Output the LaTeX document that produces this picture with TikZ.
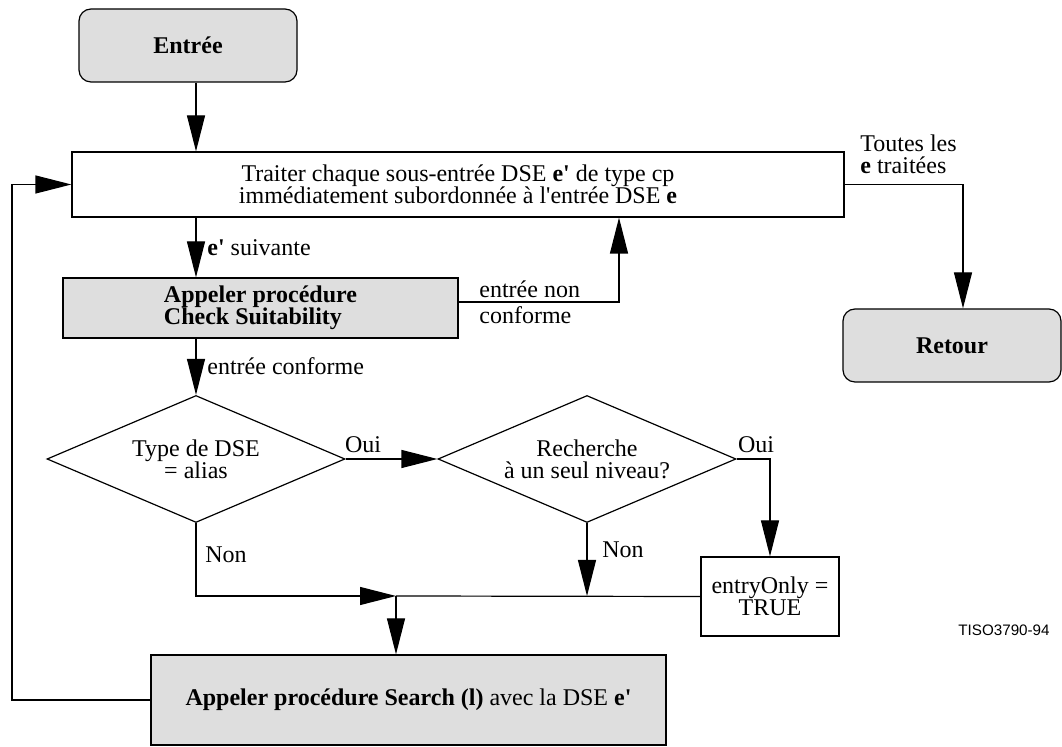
\documentclass[tikz,border=0pt]{standalone}
\usepackage{fontspec}
\setmainfont{Liberation Serif}
\newfontfamily\tisofont{Liberation Sans}
\usetikzlibrary{arrows.meta,shapes.geometric}
\definecolor{boxgray}{RGB}{222,222,222}
\newcommand{\dsize}{\fontsize{12}{11}\selectfont}
\newcommand{\ap}{\textquotesingle}
\tikzset{
  base/.style={draw, line width=0.6pt, inner sep=0pt, font=\dsize},
  termbox/.style={base, fill=boxgray, rounded corners=6pt, font=\dsize\bfseries,
    minimum width=109pt, minimum height=36.5pt},
  procbox/.style={base, rectangle},
  graybox/.style={procbox, fill=boxgray},
  decision/.style={base, diamond, aspect=2.35, align=center,
    minimum width=149pt, minimum height=63.5pt},
  lbl/.style={font=\dsize, inner sep=0pt},
  arr/.style={line width=0.6pt, -{Triangle[length=18pt,width=9pt]}},
  ln/.style={line width=0.6pt}
}
\begin{document}
\begin{tikzpicture}[x=0.5pt,y=-0.5pt]
\useasboundingbox (0,0) rectangle (1062,747);

% nodes
\node[termbox] (entree) at (188,45.5) {Entrée};
\node[procbox, align=center, minimum width=386pt, minimum height=32.5pt] (traiter) at (458,184.5)
  {Traiter chaque sous-entrée DSE \textbf{e\ap} de type cp\\immédiatement subordonnée à l\ap entrée DSE \textbf{e}};
\node[graybox, align=left, font=\dsize\bfseries, minimum width=197.5pt, minimum height=30pt] (check) at (260.5,308)
  {Appeler procédure\\Check Suitability};
\node[decision] (d1) at (196,459) {Type de DSE\\= alias};
\node[decision] (d2) at (587,459) {Recherche\\à un seul niveau?};
\node[procbox, align=center, minimum width=69pt, minimum height=39.5pt] (eo) at (770,596.5)
  {entryOnly =\\TRUE};
\node[termbox] (retour) at (952,345.5) {Retour};
\node[graybox, minimum width=257.5pt, minimum height=45pt] (search) at (408.5,700)
  {\textbf{Appeler procédure Search (l)} avec la DSE \textbf{e\ap}};

% helper coordinates
\coordinate (ax) at (196,0);
\coordinate (cx) at (619,0);
\coordinate (rx) at (963,0);
\coordinate (lx) at (12,0);
\coordinate (j) at (396,596);

% connectors
\draw[arr] (entree.south -| ax) -- (traiter.north -| ax);
\draw[arr] (traiter.south -| ax) -- (check.north -| ax);
\draw[arr] (check.south -| ax) -- (d1.north);
\draw[arr] ([yshift=3pt]check.east) -| (traiter.south -| cx);
\draw[arr] (traiter.east) -| (retour.north -| rx);
\draw[arr] (d1.east) -- (d2.west);
\draw[arr] (d2.east) -| (eo.north);
\draw[arr] (d2.south) -- (d2.south |- j);
\draw[arr] (d1.south) |- (j);
\draw[ln] (eo.west) -- (j);
\draw[arr] (j) -- (search.north -| j);
\draw[arr] (search.west) -| (traiter.west -| lx) -- (traiter.west);

% labels
\node[lbl, anchor=west] (l1) at (207,248) {\textbf{e\ap} suivante};
\node[lbl, anchor=west] (l2) at (207,366) {entrée conforme};
\node[lbl, anchor=west] (l3a) at (479,289) {entrée non};
\node[lbl, anchor=west] (l3b) at (479,315) {conforme};
\node[lbl, anchor=west, align=left] (l4) at (860,154) {Toutes les\\\textbf{e} traitées};
\node[lbl] (oui1) at (363,445) {Oui};
\node[lbl] (oui2) at (756,445) {Oui};
\node[lbl] (non1) at (226,555) {Non};
\node[lbl] (non2) at (623,550) {Non};
\node[inner sep=0pt, font=\tisofont\fontsize{7.6}{9}\selectfont] (tiso) at (1004,630) {TISO3790-94};
\end{tikzpicture}
\end{document}
